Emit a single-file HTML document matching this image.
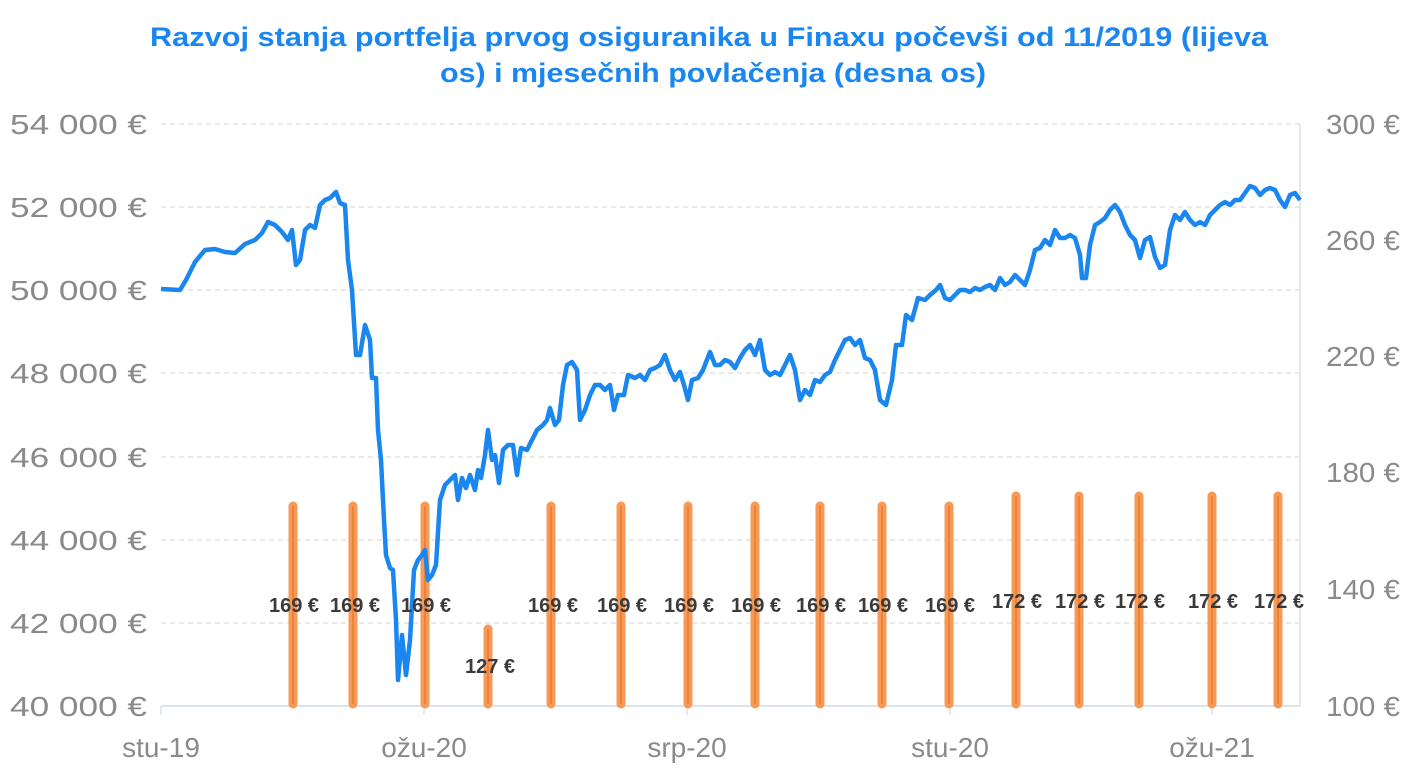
<!DOCTYPE html>
<html><head><meta charset="utf-8"><style>
html,body{margin:0;padding:0;background:#fff;width:1418px;height:774px;overflow:hidden}
svg{display:block}
</style></head><body>
<svg width="1418" height="774" viewBox="0 0 1418 774" font-family="Liberation Sans, sans-serif">
<text x="150" y="46" font-size="27" font-weight="bold" fill="#1a86ef" textLength="1118" lengthAdjust="spacingAndGlyphs">Razvoj stanja portfelja prvog osiguranika u Finaxu počevši od 11/2019 (lijeva</text>
<text x="440" y="82" font-size="27" font-weight="bold" fill="#1a86ef" textLength="546" lengthAdjust="spacingAndGlyphs">os) i mjesečnih povlačenja (desna os)</text>
<g stroke="#dcdcdc" stroke-width="1.2" stroke-dasharray="5,4">
<line x1="161" x2="1300" y1="124" y2="124"/><line x1="161" x2="1300" y1="207" y2="207"/><line x1="161" x2="1300" y1="290" y2="290"/><line x1="161" x2="1300" y1="373" y2="373"/><line x1="161" x2="1300" y1="457" y2="457"/><line x1="161" x2="1300" y1="540" y2="540"/><line x1="161" x2="1300" y1="623" y2="623"/>
</g>
<line x1="1300" x2="1300" y1="124" y2="706" stroke="#e0e0e0" stroke-width="1.5"/>
<line x1="161" x2="1300" y1="706" y2="706" stroke="#dde3ea" stroke-width="2"/>
<g stroke="#dde3ea" stroke-width="1.5"><line x1="161" x2="161" y1="706" y2="715"/><line x1="424" x2="424" y1="706" y2="715"/><line x1="687" x2="687" y1="706" y2="715"/><line x1="950" x2="950" y1="706" y2="715"/><line x1="1212" x2="1212" y1="706" y2="715"/></g>
<g font-size="28" fill="#8a8a8a" text-anchor="end">
<text x="147" y="134" textLength="137" lengthAdjust="spacingAndGlyphs">54 000 €</text><text x="147" y="217" textLength="137" lengthAdjust="spacingAndGlyphs">52 000 €</text><text x="147" y="300" textLength="137" lengthAdjust="spacingAndGlyphs">50 000 €</text><text x="147" y="383" textLength="137" lengthAdjust="spacingAndGlyphs">48 000 €</text><text x="147" y="467" textLength="137" lengthAdjust="spacingAndGlyphs">46 000 €</text><text x="147" y="550" textLength="137" lengthAdjust="spacingAndGlyphs">44 000 €</text><text x="147" y="633" textLength="137" lengthAdjust="spacingAndGlyphs">42 000 €</text><text x="147" y="716" textLength="137" lengthAdjust="spacingAndGlyphs">40 000 €</text>
</g>
<g font-size="28" fill="#8a8a8a">
<text x="1326" y="134" textLength="74" lengthAdjust="spacingAndGlyphs">300 €</text><text x="1326" y="250" textLength="74" lengthAdjust="spacingAndGlyphs">260 €</text><text x="1326" y="366" textLength="74" lengthAdjust="spacingAndGlyphs">220 €</text><text x="1326" y="482" textLength="74" lengthAdjust="spacingAndGlyphs">180 €</text><text x="1326" y="599" textLength="74" lengthAdjust="spacingAndGlyphs">140 €</text><text x="1326" y="716" textLength="74" lengthAdjust="spacingAndGlyphs">100 €</text>
</g>
<g font-size="28" fill="#8a8a8a" text-anchor="middle">
<text x="161" y="757">stu-19</text><text x="424" y="757">ožu-20</text><text x="687" y="757">srp-20</text><text x="950" y="757">stu-20</text><text x="1212" y="757">ožu-21</text>
</g>
<g stroke="#f79a55" stroke-width="9" stroke-linecap="round">
<line x1="293" x2="293" y1="506" y2="704"/><line x1="353" x2="353" y1="506" y2="704"/><line x1="425" x2="425" y1="506" y2="704"/><line x1="488" x2="488" y1="629" y2="704"/><line x1="551" x2="551" y1="506" y2="704"/><line x1="621" x2="621" y1="506" y2="704"/><line x1="688" x2="688" y1="506" y2="704"/><line x1="755" x2="755" y1="506" y2="704"/><line x1="820" x2="820" y1="506" y2="704"/><line x1="882" x2="882" y1="506" y2="704"/><line x1="949" x2="949" y1="506" y2="704"/><line x1="1016" x2="1016" y1="496" y2="704"/><line x1="1079" x2="1079" y1="496" y2="704"/><line x1="1139" x2="1139" y1="496" y2="704"/><line x1="1212" x2="1212" y1="496" y2="704"/><line x1="1278" x2="1278" y1="496" y2="704"/>
</g>
<g stroke="#e97a34" stroke-width="1.5">
<line x1="293" x2="293" y1="506" y2="704"/><line x1="353" x2="353" y1="506" y2="704"/><line x1="425" x2="425" y1="506" y2="704"/><line x1="488" x2="488" y1="629" y2="704"/><line x1="551" x2="551" y1="506" y2="704"/><line x1="621" x2="621" y1="506" y2="704"/><line x1="688" x2="688" y1="506" y2="704"/><line x1="755" x2="755" y1="506" y2="704"/><line x1="820" x2="820" y1="506" y2="704"/><line x1="882" x2="882" y1="506" y2="704"/><line x1="949" x2="949" y1="506" y2="704"/><line x1="1016" x2="1016" y1="496" y2="704"/><line x1="1079" x2="1079" y1="496" y2="704"/><line x1="1139" x2="1139" y1="496" y2="704"/><line x1="1212" x2="1212" y1="496" y2="704"/><line x1="1278" x2="1278" y1="496" y2="704"/>
</g>
<polyline fill="none" stroke="#1a86ef" stroke-width="4.5" stroke-linejoin="round" points="161,289 180,290 186,280 195,262 205,250 215,249 225,252 235,253 245,244 255,240 262,233 268,222 275,225 282,232 288,240 292,230 296,265 300,260 305,230 310,225 315,228 320,205 325,200 330,198 336,192 340,203 345,205 348,260 352,290 356,355 360,355 365,325 370,340 372,378 376,378 378,430 381,460 384,520 386,555 390,568 393,570 396,620 398,680 402,635 406,675 410,640 414,570 418,560 422,555 425,550 428,580 432,575 436,565 440,500 445,485 450,480 455,475 458,500 462,478 466,488 470,475 475,490 478,470 481,478 485,455 488,430 492,460 495,455 499,483 503,450 508,445 513,445 517,475 521,448 527,450 532,440 537,430 543,425 547,420 550,408 555,425 559,420 563,385 567,365 572,362 577,370 580,420 585,410 590,395 595,385 600,385 605,390 610,385 614,410 618,395 624,395 628,375 635,378 640,375 645,380 650,370 655,368 660,365 665,355 670,370 675,380 680,372 684,385 688,400 692,380 698,378 703,370 710,352 715,365 720,365 725,360 730,362 735,368 740,358 745,350 750,345 755,355 760,340 765,370 770,375 775,372 780,375 785,365 790,355 795,370 800,400 805,390 810,395 815,380 820,382 825,375 830,372 835,360 840,350 845,340 850,338 855,345 860,340 865,358 870,360 875,370 880,400 886,405 892,380 896,345 902,345 906,315 912,320 918,298 925,300 930,295 936,290 940,285 945,298 950,300 955,295 960,290 965,290 970,292 975,288 980,290 985,287 990,285 995,290 1000,278 1005,285 1010,282 1015,275 1020,280 1025,285 1030,270 1035,250 1040,248 1045,240 1050,245 1055,230 1060,238 1065,238 1070,235 1075,238 1080,255 1082,278 1086,278 1090,245 1095,225 1100,222 1105,218 1110,210 1115,205 1120,212 1125,225 1130,235 1135,240 1140,258 1145,240 1150,237 1155,257 1160,268 1165,265 1170,230 1175,215 1180,220 1185,212 1190,220 1195,225 1200,222 1205,225 1210,215 1215,210 1220,205 1225,202 1230,205 1235,200 1240,200 1245,193 1250,186 1255,188 1260,195 1265,190 1270,188 1275,190 1280,200 1285,207 1290,195 1295,193 1300,200"/>
<g font-size="20" font-weight="bold" fill="#3a3a3a" text-anchor="middle" font-family="Liberation Sans Narrow, Liberation Sans, sans-serif">
<text x="294" y="612">169 €</text><text x="355" y="612">169 €</text><text x="426" y="612">169 €</text><text x="490" y="673">127 €</text><text x="553" y="612">169 €</text><text x="622" y="612">169 €</text><text x="689" y="612">169 €</text><text x="756" y="612">169 €</text><text x="821" y="612">169 €</text><text x="883" y="612">169 €</text><text x="950" y="612">169 €</text><text x="1017" y="608">172 €</text><text x="1080" y="608">172 €</text><text x="1140" y="608">172 €</text><text x="1213" y="608">172 €</text><text x="1279" y="608">172 €</text>
</g>
</svg>
</body></html>
